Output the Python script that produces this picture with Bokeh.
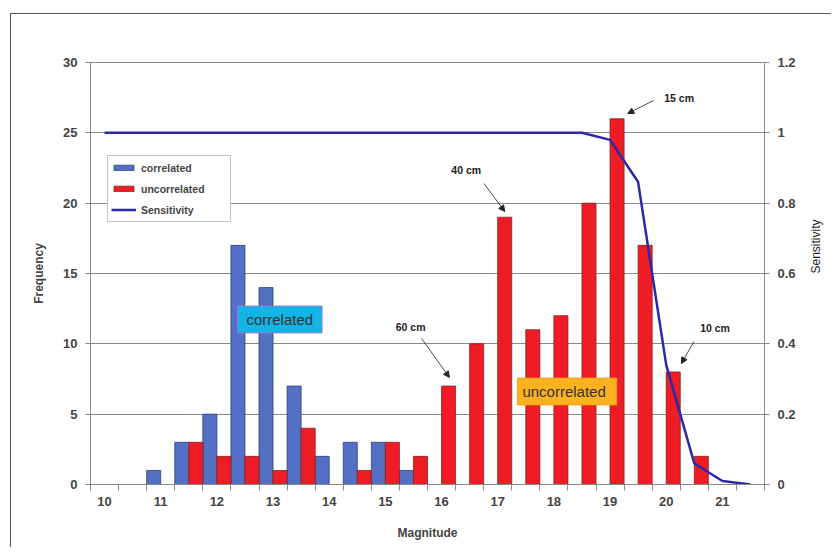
import math
from bokeh.plotting import figure
from bokeh.models import (Range1d, LinearAxis, FixedTicker, Legend, LegendItem,
                          Label, Arrow, NormalHead)
from bokeh.embed import file_html
from bokeh.resources import INLINE

# ---- data -------------------------------------------------------------
magnitudes = ["10", "10.5", "11", "11.5", "12", "12.5", "13", "13.5", "14", "14.5",
              "15", "15.5", "16", "16.5", "17", "17.5", "18", "18.5", "19", "19.5",
              "20", "20.5", "21", "21.5"]
correlated = [0, 0, 1, 3, 5, 17, 14, 7, 2, 3, 3, 1, 0, 0, 0, 0, 0, 0, 0, 0, 0, 0, 0, 0]
uncorrelated = [0, 0, 0, 3, 2, 2, 1, 4, 0, 1, 3, 2, 7, 10, 19, 11, 12, 20, 26, 17, 8, 2, 0, 0]
sensitivity = [1, 1, 1, 1, 1, 1, 1, 1, 1, 1, 1, 1, 1, 1, 1, 1, 1, 1,
               0.98, 0.86, 0.34, 0.06, 0.01, 0.0]
freq_ticks = [0, 5, 10, 15, 20, 25, 30]
sens_ticks = [0, 0.2, 0.4, 0.6, 0.8, 1.0, 1.2]
sens_tick_labels = ["0", "0.2", "0.4", "0.6", "0.8", "1", "1.2"]

n = len(magnitudes)
idx = list(range(n))
x_blue = [i + 0.25 for i in idx]
x_red = [i + 0.75 for i in idx]
x_mid = [i + 0.5 for i in idx]

FONT = "Liberation Sans"
GRAY = "#8a8a8a"

p = figure(width=821, height=534, output_backend="svg", toolbar_location=None,
           x_range=Range1d(0, n), y_range=Range1d(0, 30),
           min_border_left=79, min_border_right=62, min_border_top=48,
           min_border_bottom=64)
p.margin = (13, 0, 0, 10)
p.styles = {"border-left": "1px solid #555555", "border-top": "1px solid #555555"}
p.extra_y_ranges = {"sens": Range1d(0, 1.2)}
p.outline_line_color = GRAY
p.background_fill_color = "white"
p.border_fill_color = "white"

# bars
r_c = p.vbar(x=x_blue, top=correlated, width=0.5, fill_color="#5470c4",
             line_color="#2e3f7a", line_width=0.8)
r_u = p.vbar(x=x_red, top=uncorrelated, width=0.5, fill_color="#ee1c24",
             line_color="#8a2020", line_width=0.8)
# sensitivity line
r_s = p.line(x=x_mid, y=sensitivity, y_range_name="sens", line_color="#2a2aa6",
             line_width=2.5)

# axes
xa = p.xaxis[0]
xa.ticker = FixedTicker(ticks=[x_mid[i] for i in idx if i % 2 == 0],
                        minor_ticks=idx + [n])
xa.major_label_overrides = {x_mid[i]: magnitudes[i] for i in idx if i % 2 == 0}
xa.major_tick_out = 0
xa.major_tick_in = 0
xa.minor_tick_out = 6
xa.minor_tick_in = 0
xa.minor_tick_line_color = GRAY
xa.axis_line_color = GRAY
xa.major_label_text_font = FONT
xa.major_label_text_font_style = "bold"
xa.major_label_text_font_size = "13px"
xa.major_label_standoff = 6
xa.axis_label = "Magnitude"
xa.axis_label_text_font = FONT
xa.axis_label_text_font_style = "bold"
xa.axis_label_text_font_size = "12px"
xa.axis_label_standoff = 17

ya = p.yaxis[0]
ya.ticker = FixedTicker(ticks=freq_ticks)
ya.minor_tick_line_color = None
ya.major_tick_out = 5
ya.major_tick_in = 0
ya.major_tick_line_color = GRAY
ya.axis_line_color = GRAY
ya.major_label_text_font = FONT
ya.major_label_text_font_style = "bold"
ya.major_label_text_font_size = "13px"
ya.major_label_standoff = 8
ya.axis_label = "Frequency"
ya.axis_label_text_font = FONT
ya.axis_label_text_font_style = "bold"
ya.axis_label_text_font_size = "12px"
ya.axis_label_standoff = 14

ra = LinearAxis(y_range_name="sens", ticker=FixedTicker(ticks=sens_ticks))
ra.major_label_overrides = dict(zip(sens_ticks, sens_tick_labels))
ra.minor_tick_line_color = None
ra.major_tick_out = 5
ra.major_tick_in = 0
ra.major_tick_line_color = GRAY
ra.axis_line_color = GRAY
ra.major_label_text_font = FONT
ra.major_label_text_font_style = "bold"
ra.major_label_text_font_size = "13px"
ra.major_label_standoff = 8
ra.axis_label = "Sensitivity"
ra.axis_label_text_font = FONT
ra.axis_label_text_font_style = "normal"
ra.axis_label_text_color = "#222222"
ra.axis_label_text_font_size = "12px"
ra.axis_label_standoff = 17
ra.axis_label_orientation = math.pi / 2
p.add_layout(ra, "right")

p.xgrid.grid_line_color = None
p.ygrid.grid_line_color = GRAY
p.ygrid.grid_line_width = 1

# legend
legend = Legend(items=[LegendItem(label="correlated", renderers=[r_c]),
                       LegendItem(label="uncorrelated", renderers=[r_u]),
                       LegendItem(label="Sensitivity", renderers=[r_s])],
                location=(17, 262), orientation="vertical",
                label_text_font=FONT, label_text_font_style="bold",
                label_text_font_size="10.5px", glyph_width=25, glyph_height=7,
                label_height=17, spacing=4, padding=3, margin=0,
                label_standoff=5, label_width=86,
                border_line_color="#888888", border_line_width=1,
                background_fill_color="white", background_fill_alpha=1)
p.add_layout(legend, "center")

# boxed labels
p.add_layout(Label(x=6.74, y=11.73, text="correlated", text_align="center",
                   text_baseline="middle", text_font=FONT, text_font_size="15px",
                   text_color="#333333", background_fill_color="#12b5e6",
                   border_line_color="#b070c0", border_line_width=0.8,
                   padding=dict(left=9, right=9, top=5, bottom=5)))
p.add_layout(Label(x=16.97, y=6.61, text="uncorrelated", text_align="center",
                   text_baseline="middle", text_font=FONT, text_font_size="15px",
                   text_color="#333333", background_fill_color="#fbb21e",
                   border_line_color="#f09a10", border_line_width=0.8,
                   padding=dict(left=5, right=11, top=5, bottom=5)))

# size annotations with arrows
notes = [("15 cm", 20.96, 27.5, 20.05, 27.30, 19.13, 26.37),
         ("40 cm", 13.38, 22.39, 14.01, 21.40, 14.75, 19.41),
         ("60 cm", 11.40, 11.23, 11.79, 10.38, 12.78, 7.61),
         ("10 cm", 22.24, 11.16, 21.49, 10.17, 21.04, 8.60)]
for txt, tx, ty, x0, y0, x1, y1 in notes:
    p.add_layout(Label(x=tx, y=ty, text=txt, text_align="center",
                       text_baseline="middle", text_font=FONT,
                       text_font_style="bold", text_font_size="10.5px",
                       text_color="#222222"))
    p.add_layout(Arrow(x_start=x0, y_start=y0, x_end=x1, y_end=y1,
                       line_color="#333333", line_width=0.9,
                       end=NormalHead(size=6, fill_color="#222222",
                                      line_color="#222222")))

open("out.html", "w").write(file_html(p, INLINE))
